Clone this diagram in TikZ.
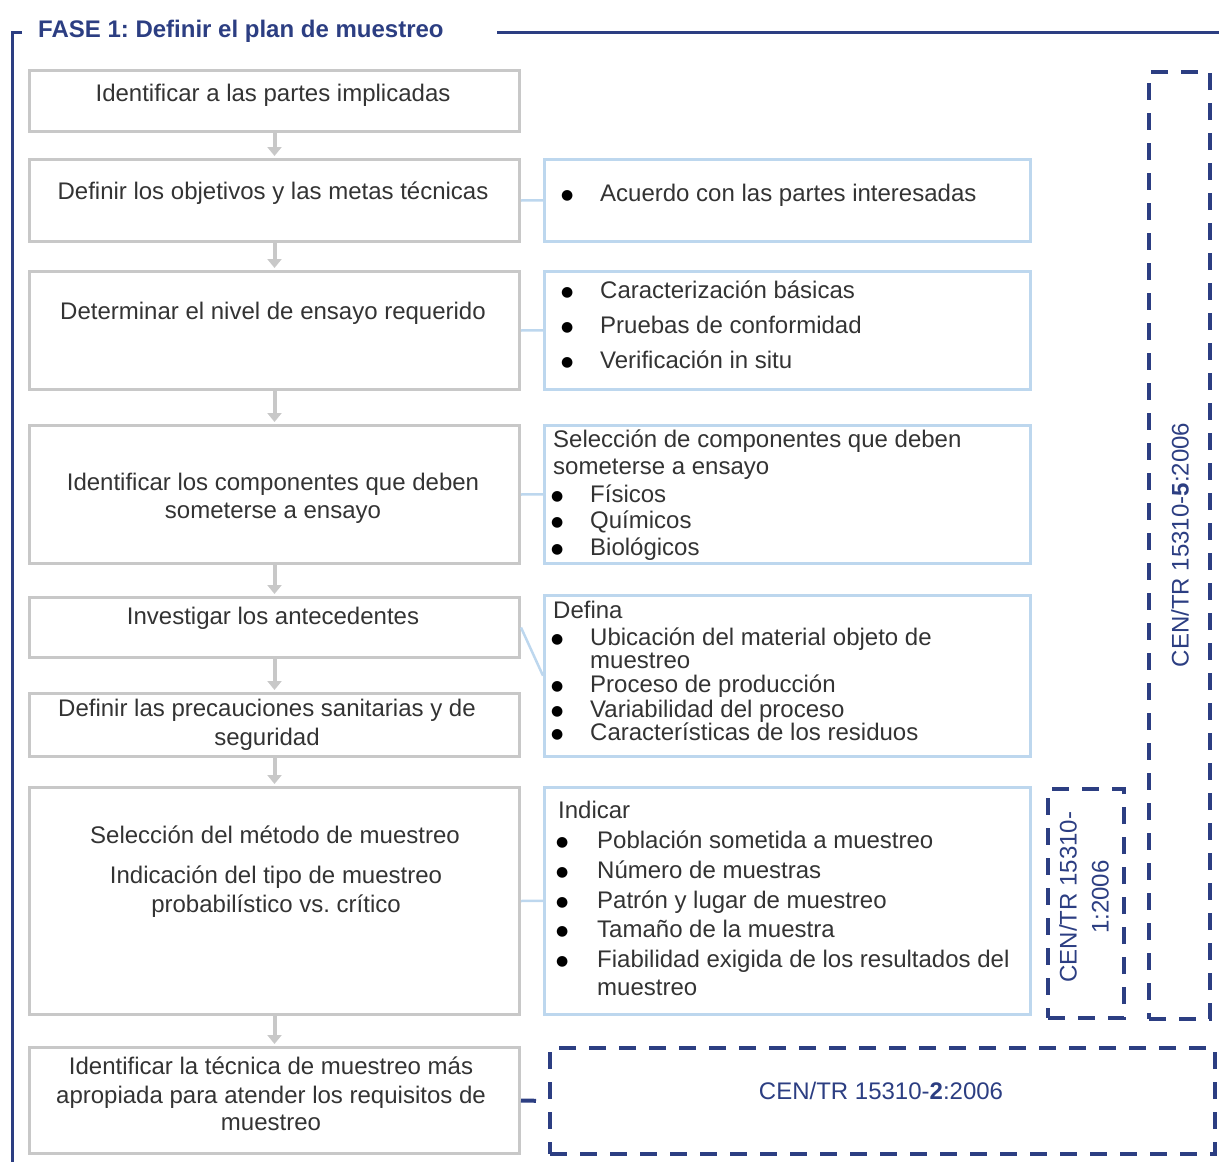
\documentclass[tikz,border=0pt]{standalone}
\usepackage{fontspec}
\setmainfont{Liberation Sans}
\newfontfamily\bulfont{DejaVu Sans}
\usetikzlibrary{arrows.meta}
\frenchspacing
\definecolor{gline}{HTML}{C8C8C8}
\definecolor{bline}{HTML}{BDD7EE}
\definecolor{dblue}{RGB}{44,62,130}
\definecolor{txt}{HTML}{333333}
\newcommand{\bulmark}{\smash{\raisebox{1.5pt}{\bulfont\fontsize{14}{14}\selectfont\textcolor{black}{●}}}}
\newcommand{\bitem}[2]{\makebox[#1][l]{\bulmark}#2}
\begin{document}
\begin{tikzpicture}[x=1pt,y=-1pt,
  gbox/.style={draw=gline, line width=3pt, inner sep=0pt, anchor=north west},
  bbox/.style={draw=bline, line width=2.5pt, inner sep=0pt, anchor=north west},
  dbox/.style={draw=dblue, line width=4pt, dash pattern=on 17pt off 13pt, inner sep=0pt, anchor=north west},
  lt/.style={inner sep=0pt, anchor=base, text=txt, text height=18pt, text depth=5pt, font=\fontsize{24}{28}\selectfont},
  rt/.style={inner sep=0pt, anchor=base west, text=txt, text height=18pt, text depth=5pt, font=\fontsize{24}{28}\selectfont},
  ct/.style={inner sep=0pt, text=dblue, font=\fontsize{24}{32}\selectfont},
  flow/.style={draw=gline, line width=4pt, -{Triangle[width=14pt,length=9pt]}, shorten >=2pt},
  link/.style={draw=bline, line width=2.5pt},
  dlink/.style={draw=dblue, line width=4pt, dash pattern=on 15pt off 15pt},
  frame/.style={draw=dblue, line width=3pt},
]
\useasboundingbox (0,0) rectangle (1219,1162);

% frame and title
\draw[frame] (22,32) -- (12,32) -- (12,1162);
\draw[frame] (497,32) -- (1219,32);
\node[inner sep=0pt, anchor=base west, text=dblue, font=\fontsize{24}{28}\selectfont\bfseries] (title) at (38,37) {FASE 1: Definir el plan de muestreo};

% left boxes
\node[gbox, minimum width=490pt, minimum height=61pt] (b1) at (28,69) {};
\node[gbox, minimum width=490pt, minimum height=82pt] (b2) at (28,158) {};
\node[gbox, minimum width=490pt, minimum height=118pt] (b3) at (28,270) {};
\node[gbox, minimum width=490pt, minimum height=138pt] (b4) at (28,424) {};
\node[gbox, minimum width=490pt, minimum height=60pt] (b5) at (28,596) {};
\node[gbox, minimum width=490pt, minimum height=63pt] (b6) at (28,692) {};
\node[gbox, minimum width=490pt, minimum height=227pt] (b7) at (28,786) {};
\node[gbox, minimum width=490pt, minimum height=106pt] (b8) at (28,1046) {};

% right boxes
\node[bbox, minimum width=486pt, minimum height=82pt] (rA) at (543,158) {};
\node[bbox, minimum width=486pt, minimum height=118pt] (rB) at (543,270) {};
\node[bbox, minimum width=486pt, minimum height=138pt] (rC) at (543,424) {};
\node[bbox, minimum width=486pt, minimum height=161pt] (rD) at (543,594) {};
\node[bbox, minimum width=486pt, minimum height=227pt] (rE) at (543,786) {};

% dashed boxes
\node[dbox, minimum width=61pt, minimum height=947pt] (d5) at (1147,70) {};
\node[dbox, minimum width=76pt, minimum height=229pt] (d1) at (1046,787) {};
\node[dbox, minimum width=665pt, minimum height=106pt] (d2) at (548,1046) {};

% flow arrows
\draw[flow] (b1.south) -- (b2.north);
\draw[flow] (b2.south) -- (b3.north);
\draw[flow] (b3.south) -- (b4.north);
\draw[flow] (b4.south) -- (b5.north);
\draw[flow] (b5.south) -- (b6.north);
\draw[flow] (b6.south) -- (b7.north);
\draw[flow] (b7.south) -- (b8.north);

% links
\draw[link] (b2.east) -- (rA.west);
\draw[link] (b3.east) -- (rB.west);
\draw[link] (b4.east) -- (rC.west);
\draw[link] (b5.east) -- (rD.west);
\draw[link] (b7.east) -- (rE.west);
\draw[dlink] (b8.east) -- (d2.west);

% left texts
\node[lt] (t1) at (273,101) {Identificar a las partes implicadas};
\node[lt] (t2) at (273,199) {Definir los objetivos y las metas técnicas};
\node[lt] (t3) at (273,319) {Determinar el nivel de ensayo requerido};
\node[lt] (t4a) at (273,490) {Identificar los componentes que deben};
\node[lt] (t4b) at (273,518) {someterse a ensayo};
\node[lt] (t5) at (273,624) {Investigar los antecedentes};
\node[lt] (t6a) at (267,716) {Definir las precauciones sanitarias y de};
\node[lt] (t6b) at (267,745) {seguridad};
\node[lt] (t7a) at (275,843) {Selección del método de muestreo};
\node[lt] (t7b) at (276,883) {Indicación del tipo de muestreo};
\node[lt] (t7c) at (276,912) {probabilístico vs. crítico};
\node[lt] (t8a) at (271,1074) {Identificar la técnica de muestreo más};
\node[lt] (t8b) at (271,1103) {apropiada para atender los requisitos de};
\node[lt] (t8c) at (271,1130) {muestreo};

% right texts
\node[rt] (a1) at (561,201) {\bitem{39pt}{Acuerdo con las partes interesadas}};
\node[rt] (bb1) at (561,298) {\bitem{39pt}{Caracterización básicas}};
\node[rt] (bb2) at (561,333) {\bitem{39pt}{Pruebas de conformidad}};
\node[rt] (bb3) at (561,368) {\bitem{39pt}{Verificación in situ}};

\node[rt] (c0a) at (553,447) {Selección de componentes que deben};
\node[rt] (c0b) at (553,474) {someterse a ensayo};
\node[rt] (c1) at (551,502) {\bitem{39pt}{Físicos}};
\node[rt] (c2) at (551,528) {\bitem{39pt}{Químicos}};
\node[rt] (c3) at (551,555) {\bitem{39pt}{Biológicos}};

\node[rt] (e0) at (553,618) {Defina};
\node[rt] (e1) at (551,645) {\bitem{39pt}{Ubicación del material objeto de}};
\node[rt] (e1b) at (590,668) {muestreo};
\node[rt] (e2) at (551,692) {\bitem{39pt}{Proceso de producción}};
\node[rt] (e3) at (551,717) {\bitem{39pt}{Variabilidad del proceso}};
\node[rt] (e4) at (551,740) {\bitem{39pt}{Características de los residuos}};

\node[rt] (f0) at (558,818) {Indicar};
\node[rt] (f1) at (556,848) {\bitem{41pt}{Población sometida a muestreo}};
\node[rt] (f2) at (556,878) {\bitem{41pt}{Número de muestras}};
\node[rt] (f3) at (556,908) {\bitem{41pt}{Patrón y lugar de muestreo}};
\node[rt] (f4) at (556,937) {\bitem{41pt}{Tamaño de la muestra}};
\node[rt] (f5) at (556,967) {\bitem{41pt}{Fiabilidad exigida de los resultados del}};
\node[rt] (f5b) at (597,995) {muestreo};

% standards texts
\node[ct, rotate=90] (s5) at (1180,545) {CEN/TR 15310-\textbf{5}:2006};
\node[ct, rotate=90, align=center] (s1) at (1084,897) {CEN/TR 15310-\\1:2006};
\node[ct] (s2) at (881,1091) {CEN/TR 15310-\textbf{2}:2006};
\end{tikzpicture}
\end{document}
